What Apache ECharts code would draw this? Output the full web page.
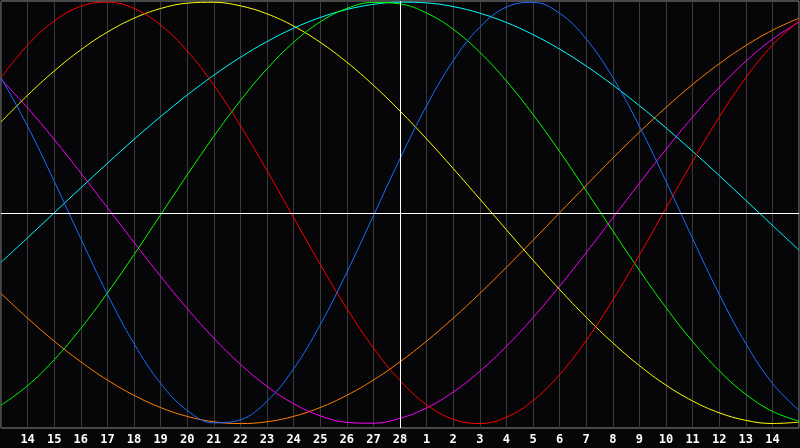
<!DOCTYPE html>
<html>
<head>
<meta charset="utf-8">
<script src="https://cdn.jsdelivr.net/npm/echarts@6/dist/echarts.min.js"></script>
<style>
html,body{margin:0;padding:0;background:#060608;}
#c{width:800px;height:448px;}
</style>
</head>
<body>
<div id="c"></div>
<script>
// day labels for positions 0..30
var dayLabels = ['13','14','15','16','17','18','19','20','21','22','23','24','25','26','27','28',
                 '1','2','3','4','5','6','7','8','9','10','11','12','13','14','15'];

var redVals = [0.6410,0.7957,0.9105,0.9797,0.9997,0.9697,0.8910,0.7678,0.6058,0.4136,0.2006,-0.0225,-0.2443,-0.4540,-0.6410,-0.7957,-0.9105,-0.9797,-0.9997,-0.9697,-0.8910,-0.7678,-0.6058,-0.4136,-0.2006,0.0225,0.2443,0.4540,0.6410,0.7957,0.9105];
var blueVals = [0.6416,0.4109,0.1497,-0.1226,-0.3858,-0.6204,-0.8090,-0.9376,-0.9966,-0.9818,-0.8941,-0.7402,-0.5312,-0.2829,-0.0137,0.2566,0.5079,0.7215,0.8815,0.9762,0.9985,0.9467,0.8248,0.6416,0.4109,0.1497,-0.1226,-0.3858,-0.6204,-0.8090,-0.9376];
var greenVals = [-0.9135,-0.8201,-0.6970,-0.5486,-0.3805,-0.1986,-0.0095,0.1799,0.3628,0.5326,0.6832,0.8090,0.9056,0.9695,0.9984,0.9911,0.9481,0.8708,0.7619,0.6256,0.4667,0.2909,0.1045,-0.0856,-0.2726,-0.4498,-0.6106,-0.7495,-0.8612,-0.9418,-0.9884];
var yellowVals = [0.4311,0.5578,0.6727,0.7733,0.8574,0.9232,0.9693,0.9948,0.9990,0.9820,0.9441,0.8860,0.8090,0.7148,0.6054,0.4830,0.3504,0.2103,0.0657,-0.0803,-0.2246,-0.3640,-0.4958,-0.6170,-0.7250,-0.8176,-0.8927,-0.9488,-0.9847,-0.9996,-0.9932];
var magentaVals = [0.6336,0.4976,0.3481,0.1890,0.0248,-0.1401,-0.3011,-0.4540,-0.5945,-0.7187,-0.8234,-0.9056,-0.9630,-0.9942,-0.9983,-0.9752,-0.9255,-0.8505,-0.7523,-0.6336,-0.4976,-0.3481,-0.1890,-0.0248,0.1401,0.3011,0.4540,0.5945,0.7187,0.8234,0.9056];
var orangeVals = [-0.3827,-0.5000,-0.6088,-0.7071,-0.7934,-0.8660,-0.9239,-0.9659,-0.9914,-1.0000,-0.9914,-0.9659,-0.9239,-0.8660,-0.7934,-0.7071,-0.6088,-0.5000,-0.3827,-0.2588,-0.1305,0.0000,0.1305,0.2588,0.3827,0.5000,0.6088,0.7071,0.7934,0.8660,0.9239];
var cyanVals = [-0.2349,-0.1183,0.0000,0.1183,0.2349,0.3482,0.4566,0.5586,0.6529,0.7379,0.8125,0.8758,0.9267,0.9646,0.9890,0.9996,0.9961,0.9786,0.9473,0.9028,0.8456,0.7767,0.6965,0.6066,0.5085,0.4031,0.2920,0.1769,0.0592,-0.0592,-0.1769];

var todayIndex = 15;

function pairs(vals){ return vals.map(function(v,i){ return [i,v]; }); }

function mkSeries(name, vals, color){
  return {
    name: name, type: 'line', data: pairs(vals), smooth: 0.4,
    symbol: 'none', lineStyle: {color: color, width: 1}, itemStyle:{color: color},
    silent: true, animation: false
  };
}

var series = [
  mkSeries('orange', orangeVals, '#ff8000'),
  mkSeries('magenta', magentaVals, '#ff00ff'),
  mkSeries('yellow', yellowVals, '#ffff00'),
  mkSeries('cyan', cyanVals, '#00ffff'),
  mkSeries('green', greenVals, '#00ff00'),
  mkSeries('red', redVals, '#ff0000'),
  mkSeries('blue', blueVals, '#1a6cff')
];
series[0].markLine = {
  silent: true, symbol: ['none','none'], label: {show: false},
  lineStyle: {color: '#ffffff', width: 1, type: 'solid'},
  data: [{xAxis: todayIndex}, {yAxis: 0}],
  animation: false
};

var chart = echarts.init(document.getElementById('c'), null, {renderer: 'canvas'});
chart.setOption({
  backgroundColor: '#060608',
  animation: false,
  grid: {left: 1, right: 1, top: 1, bottom: 20, show: true, borderColor: '#8a8a8a', borderWidth: 1, backgroundColor: 'transparent'},
  xAxis: {
    type: 'value', min: 0, max: 30, interval: 1,
    axisLine: {show: true, lineStyle: {color: '#8a8a8a'}},
    axisTick: {show: false},
    splitLine: {show: true, lineStyle: {color: '#3a3a3a', width: 1}},
    axisLabel: {
      color: '#ffffff', fontFamily: 'DejaVu Sans Mono', fontWeight: 'bold', fontSize: 12, margin: 6,
      showMinLabel: false, showMaxLabel: false,
      formatter: function(v){ return (v <= 0 || v >= 30) ? '' : dayLabels[v]; }
    }
  },
  yAxis: {
    type: 'value', min: -1.021, max: 1.005,
    axisLine: {show: false}, axisTick: {show: false}, axisLabel: {show: false}, splitLine: {show: false}
  },
  series: series
});
</script>
</body>
</html>
